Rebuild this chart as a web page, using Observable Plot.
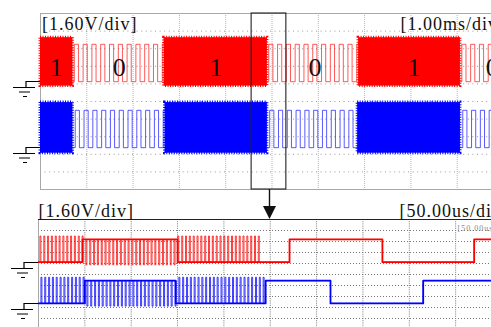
<!DOCTYPE html>
<html><head><meta charset="utf-8">
<script src="https://cdn.jsdelivr.net/npm/d3@7"></script>
<script src="https://cdn.jsdelivr.net/npm/@observablehq/plot@0.6"></script>
<style>
html,body{margin:0;padding:0;background:#fff;}
#wrap{position:relative;width:491px;height:327px;overflow:hidden;background:#fff;}
#top,#bot{position:absolute;left:0;}
#top{top:0;z-index:2;}
#bot{top:200px;z-index:1;}
</style></head>
<body><div id="wrap"><div id="bot"></div><div id="top"></div></div>
<script>
// ---------- data ----------
const channelColors = ["#ff0000", "#0000ff"];
const channelGround = [1.8, -4.2];          // V, trace ground offsets
const logicHigh = [3.4, 3.3];               // V, top / bottom panel
const burstTop = [4.0, 4.1];                // V above ground (ch1, ch2)
const burstBottom = [-0.4, -0.5];
const gridVolts = [-6.4, -4.8, -3.2, -1.6, 0, 1.6, 3.2, 4.8, 6.4];

// top panel: 1.00 ms/div
const topGridMs = [1, 2, 3, 4, 5, 6, 7, 8, 9];
const bitLabels = ["1", "0", "1", "0", "1", "0"];
const bitTimes = [0.35, 1.71, 3.80, 5.94, 8.08, 9.77];
const ch1BurstStart = [0.00, 2.67, 6.87];
const ch1BurstEnd   = [0.70, 4.90, 9.07];
const ch2BurstStart = [0.00, 2.69, 6.85];
const ch2BurstEnd   = [0.70, 4.90, 9.07];
const ch1Edges = [0.73,0.82,0.92,1.01,1.11,1.20,1.30,1.39,1.49,1.58,1.68,1.77,1.87,1.96,2.06,2.15,2.25,2.34,2.44,2.53,2.63,
                  4.93,5.02,5.12,5.21,5.31,5.40,5.50,5.59,5.69,5.78,5.88,5.97,6.07,6.16,6.26,6.35,6.45,6.54,6.64,6.73,6.83,
                  9.10,9.19,9.29,9.38,9.48,9.57,9.67,9.76];
const ch2Edges = [0.75,0.84,0.94,1.03,1.13,1.22,1.32,1.41,1.51,1.60,1.70,1.79,1.89,1.98,2.08,2.17,2.27,2.36,2.46,2.55,2.65,
                  4.95,5.04,5.14,5.23,5.33,5.42,5.52,5.61,5.71,5.80,5.90,5.99,6.09,6.18,6.28,6.37,6.47,6.56,6.66,6.75,
                  9.12,9.21,9.31,9.40,9.50,9.59,9.69,9.78];
const zoomWindow = [4.56, 5.31];
const zoomArrowTime = 4.95;

// bottom panel: 50.00 us/div
const botGridUs = [50, 100, 150, 200, 250, 300, 350, 400, 450];
const ch1BaseStart = [0, 47.5, 150, 270.8, 371, 470];
const ch1BaseLevel = [0, 1, 0, 1, 0, 1];
const ch2BaseStart = [0, 50, 148, 245, 315, 415];
const ch2BaseLevel = [0, 1, 0, 1, 0, 1];
const ch1Spikes = [1.5,5.7,9.8,13.9,18.1,22.2,26.3,30.5,34.6,38.7,42.9,47.0,51.1,55.3,59.4,63.5,67.7,71.8,75.9,80.1,
                   84.2,88.3,92.5,96.6,100.7,104.9,109.0,113.1,117.3,121.4,125.5,129.7,133.8,137.9,142.1,146.2,150.3,
                   154.5,158.6,162.7,166.9,171.0,175.1,179.3,183.4,187.5,191.7,195.8,199.9,204.1,208.2,212.3,216.5,
                   220.6,224.7,228.9,233.0,237.1];
const ch2Spikes = [2.6,6.7,10.9,15.0,19.1,23.3,27.4,31.5,35.7,39.8,43.9,48.1,52.2,56.3,60.5,64.6,68.7,72.9,77.0,81.1,
                   85.3,89.4,93.5,97.7,101.8,105.9,110.1,114.2,118.3,122.5,126.6,130.7,134.9,139.0,143.1,147.3,151.4,
                   155.5,159.7,163.8,167.9,172.1,176.2,180.3,184.5,188.6,192.7,196.9,201.0,205.1,209.3,213.4,217.5,
                   221.7,225.8,229.9,234.1,238.2,242.3];
const spikeWidth = 1.1;      // us
const spikeOver = [3.8, -0.4];

// ---------- build ----------
function bursts(ch, starts, ends) {
  return starts.map((s, i) => ({x1: s, x2: ends[i], y1: channelGround[ch] + burstBottom[ch], y2: channelGround[ch] + burstTop[ch]}));
}
function idleWave(ch, starts, ends, edges, endT) {
  const pts = [];
  const g = channelGround[ch], hi = logicHigh[0];
  ends.forEach((s, i) => {
    const e = i + 1 < starts.length ? starts[i + 1] : endT;
    let lv = 0;
    pts.push({t: s, v: g, z: i});
    for (const t of edges) if (t > s && t < e) {
      pts.push({t, v: g + lv * hi, z: i}); lv = 1 - lv; pts.push({t, v: g + lv * hi, z: i});
    }
    pts.push({t: e, v: g + lv * hi, z: i});
  });
  return pts;
}
function fastWave(ch, baseStart, baseLevel, spikes, endT) {
  const pts = [];
  const g = channelGround[ch], hi = logicHigh[1];
  baseStart.forEach((s, i) => {
    const e = i + 1 < baseStart.length ? baseStart[i + 1] : endT;
    const lv = baseLevel[i];
    const base = g + lv * hi, spk = g + (lv ? spikeOver[1] : spikeOver[0]);
    pts.push({t: s, v: base});
    for (const t of spikes) if (t >= s && t < e) {
      pts.push({t, v: base}, {t, v: spk}, {t: t + spikeWidth, v: spk}, {t: t + spikeWidth, v: base});
    }
    pts.push({t: e, v: base});
  });
  return pts;
}
function baseWave(ch, baseStart, baseLevel, endT) {
  const pts = [];
  const g = channelGround[ch], hi = logicHigh[1];
  baseStart.forEach((s, i) => {
    const e = i + 1 < baseStart.length ? baseStart[i + 1] : endT;
    pts.push({t: s, v: g + baseLevel[i] * hi}, {t: e, v: g + baseLevel[i] * hi});
  });
  return pts;
}
function groundMark() {
  return (index, scales, values, dim) => {
    const g = d3.create("svg:g").attr("stroke", "#000").attr("stroke-width", 1.2).attr("fill", "none");
    const L = dim.marginLeft;
    for (const v of channelGround) {
      const y = Math.round(scales.y(v)) + 0.5;
      g.append("path").attr("d",
        `M${L},${y}H${L - 14}V${y + 6}M${L - 27},${y + 6}H${L - 5}M${L - 21},${y + 10.5}H${L - 10}M${L - 17},${y + 15}H${L - 13}`);
    }
    return g.node();
  };
}
const serif = "'Liberation Serif','Times New Roman',serif";

const ch1B = bursts(0, ch1BurstStart, ch1BurstEnd);
const ch2B = bursts(1, ch2BurstStart, ch2BurstEnd);
const ch1I = idleWave(0, ch1BurstStart, ch1BurstEnd, ch1Edges, 10);
const ch2I = idleWave(1, ch2BurstStart, ch2BurstEnd, ch2Edges, 10);

const topPlot = Plot.plot({
  width: 491, height: 220,
  marginLeft: 40, marginRight: -12, marginTop: 13, marginBottom: 31,
  x: {domain: [0, 10], axis: null},
  y: {domain: [-8, 8], axis: null},
  style: {background: "transparent", fontFamily: serif, letterSpacing: "1px"},
  marks: [
    Plot.ruleX(topGridMs, {stroke: "#b4b4b4", strokeDasharray: "1,1"}),
    Plot.ruleY(gridVolts, {stroke: "#999", strokeDasharray: "1,3.6"}),
    Plot.frame({stroke: "#a8a8a8"}),
    Plot.line(ch1I, {x: "t", y: "v", z: "z", stroke: channelColors[0], strokeWidth: 1, strokeOpacity: 0.65}),
    Plot.line(ch2I, {x: "t", y: "v", z: "z", stroke: channelColors[1], strokeWidth: 1, strokeOpacity: 0.65}),
    Plot.rect(ch1B, {x1: "x1", x2: "x2", y1: "y1", y2: "y2", fill: channelColors[0]}),
    Plot.rect(ch2B, {x1: "x1", x2: "x2", y1: "y1", y2: "y2", fill: channelColors[1]}),
    Plot.rect(ch1B, {x1: "x1", x2: "x2", y1: "y1", y2: "y2", fill: "none", stroke: channelColors[0], strokeWidth: 3, strokeDasharray: "1,1.5"}),
    Plot.rect(ch2B, {x1: "x1", x2: "x2", y1: "y1", y2: "y2", fill: "none", stroke: channelColors[1], strokeWidth: 3, strokeDasharray: "1,1.5"}),
    Plot.text(bitLabels, {x: bitTimes, y: bitLabels.map(() => 2.36), text: d => d, fontSize: 26, fill: "#111", lineAnchor: "bottom", textAnchor: "middle"}),
    Plot.text(["[1.60V/div]"], {frameAnchor: "top-left", dx: 1.5, dy: 16.5, lineAnchor: "bottom", textAnchor: "start", fontSize: 18, fill: "#111"}),
    Plot.text(["[1.00ms/div]"], {x: [7.775], frameAnchor: "top", dy: 16.5, lineAnchor: "bottom", textAnchor: "start", fontSize: 18, fill: "#111"}),
    Plot.rect([zoomWindow], {x1: d => d[0], x2: d => d[1], fill: "none", stroke: "#222", strokeWidth: 1.1}),
    (index, scales, values, dim) => {
      const g = d3.create("svg:g").attr("fill", "#111").attr("stroke", "#111");
      const x = Math.round(scales.x(zoomArrowTime)) + 0.5;
      const y0 = dim.height - dim.marginBottom;
      g.append("line").attr("x1", x).attr("x2", x).attr("y1", y0).attr("y2", y0 + 20).attr("stroke-width", 1.4);
      g.append("path").attr("stroke", "none").attr("d", `M${x - 6.5},${y0 + 17}L${x + 6.5},${y0 + 17}L${x},${y0 + 30}Z`);
      return g.node();
    },
    groundMark()
  ]
});
document.getElementById("top").appendChild(topPlot);

const ch1F = fastWave(0, ch1BaseStart, ch1BaseLevel, ch1Spikes, 500);
const ch2F = fastWave(1, ch2BaseStart, ch2BaseLevel, ch2Spikes, 500);
const ch1Base = baseWave(0, ch1BaseStart, ch1BaseLevel, 500);
const ch2Base = baseWave(1, ch2BaseStart, ch2BaseLevel, 500);

const botPlot = Plot.plot({
  width: 491, height: 127,
  marginLeft: 38, marginRight: -10.5, marginTop: 19, marginBottom: -2,
  x: {domain: [0, 500], axis: null},
  y: {domain: [-8, 8], axis: null},
  style: {background: "transparent", fontFamily: serif, letterSpacing: "1px"},
  marks: [
    Plot.ruleX(botGridUs, {stroke: "#777", strokeDasharray: "1,1.2"}),
    Plot.ruleY(gridVolts, {stroke: "#777", strokeDasharray: "1,2"}),
    Plot.ruleX([0], {stroke: "#a8a8a8"}),
    Plot.ruleY([8], {stroke: "#222"}),
    Plot.line(ch1F, {x: "t", y: "v", stroke: channelColors[0], strokeWidth: 1, strokeOpacity: 0.75}),
    Plot.line(ch2F, {x: "t", y: "v", stroke: channelColors[1], strokeWidth: 1, strokeOpacity: 0.75}),
    Plot.line(ch1Base, {x: "t", y: "v", stroke: channelColors[0], strokeWidth: 1.8}),
    Plot.line(ch2Base, {x: "t", y: "v", stroke: channelColors[1], strokeWidth: 1.8}),
    Plot.text(["[1.60V/div]"], {frameAnchor: "top-left", dx: 0, dy: -3, lineAnchor: "bottom", textAnchor: "start", fontSize: 18, fill: "#111"}),
    Plot.text(["[50.00us/div]"], {x: [389.4], frameAnchor: "top", dy: -3, lineAnchor: "bottom", textAnchor: "start", fontSize: 18, fill: "#111"}),
    Plot.text(["[50.00us/div]"], {x: [452], y: [6.33], lineAnchor: "bottom", textAnchor: "start", fontSize: 8, fill: "#888", letterSpacing: "0px"}),
    groundMark()
  ]
});
document.getElementById("bot").appendChild(botPlot);
</script></body></html>
